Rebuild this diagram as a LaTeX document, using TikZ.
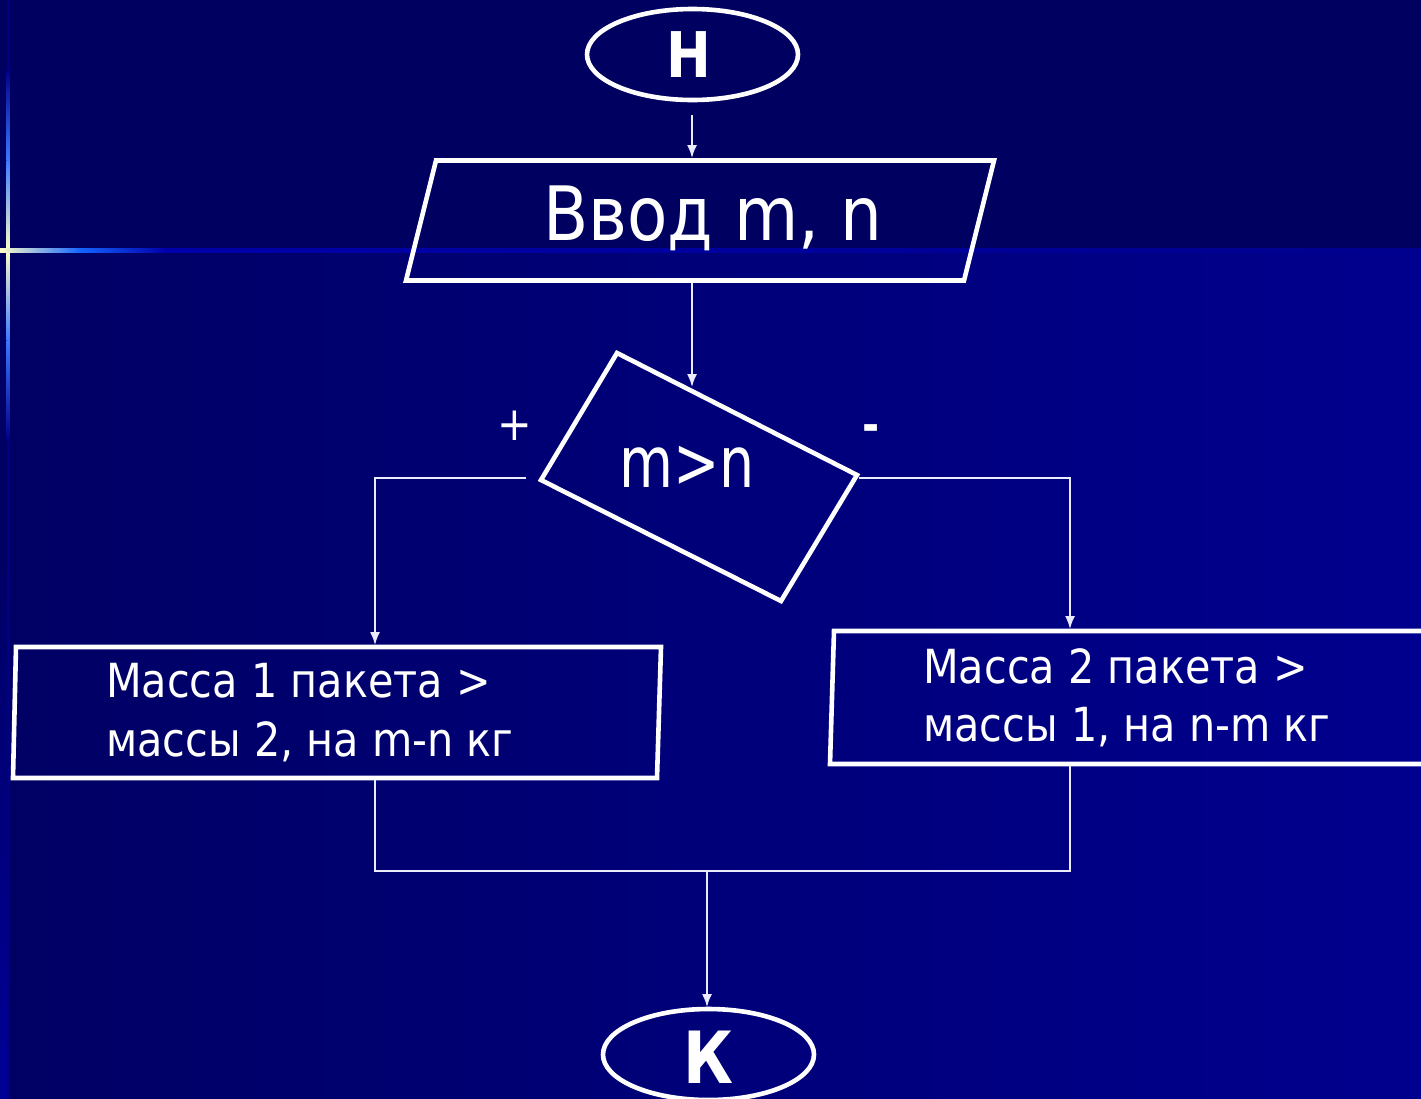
\documentclass[tikz,border=0pt]{standalone}
\usepackage{fontspec}
\setmainfont{DejaVu Sans}[FakeStretch=0.88]
\newfontfamily\condfont{DejaVu Sans}[FakeStretch=0.78]
\newfontfamily\termfont{DejaVu Sans}[FakeStretch=0.85]
\usetikzlibrary{arrows.meta,shapes.geometric,calc}
\definecolor{bgtop}{RGB}{0,0,96}
\definecolor{bgleft}{RGB}{0,0,100}
\definecolor{bgright}{RGB}{0,0,142}
\definecolor{stripblue}{RGB}{0,0,150}
\definecolor{glowdark}{RGB}{0,0,135}
\definecolor{glowmid}{RGB}{60,120,255}
\definecolor{glowlight}{RGB}{255,255,200}
\definecolor{glowblue}{RGB}{20,100,255}
\definecolor{linedark}{RGB}{0,0,170}
\begin{document}
\begin{tikzpicture}[x=1pt,y=-1pt,
  shp/.style={draw=white,line width=4.6pt,line join=miter},
  conn/.style={draw=white!92!blue,line width=1.7pt},
  arr/.style={conn,-{Latex[length=13pt,width=10pt]}},
  term/.style={ellipse,draw=white,line width=4.6pt,minimum width=211pt,minimum height=91pt,inner sep=0pt},
  termtxt/.style={text=white,inner sep=0pt,font=\termfont\bfseries\fontsize{63pt}{63pt}\selectfont},
  txt/.style={text=white,inner sep=0pt},
  boxtxt/.style={txt,anchor=base west,font=\fontsize{47pt}{59pt}\selectfont},
]
\useasboundingbox (0,0) rectangle (1421,1098);
% background
\fill[bgtop] (0,0) rectangle (1421,252);
\shade[left color=bgleft,right color=bgright] (0,251) rectangle (1421,1098);
\shade[top color=bgleft,bottom color=stripblue] (0,560) rectangle (7,1098);
% decorative glow lines
\fill[glowdark] (6.5,0) rectangle (9.5,1098);
\shade[top color=glowdark,bottom color=glowmid] (6.5,70) rectangle (9.5,160);
\shade[top color=glowmid,bottom color=glowlight] (6.5,160) rectangle (9.5,250);
\shade[top color=glowlight,bottom color=glowmid] (6.5,250) rectangle (9.5,340);
\shade[top color=glowmid,bottom color=glowdark] (6.5,340) rectangle (9.5,440);
\shade[left color=glowlight,right color=glowblue] (0,248.5) rectangle (80,252);
\shade[left color=glowblue,right color=linedark] (80,248.5) rectangle (165,252);
\shade[left color=linedark,right color=bgright] (165,248.5) rectangle (1421,252);

% terminals
\node[term] (start) at (692.5,54.5) {};
\node[termtxt] (startTxt) at (689,55) {Н};
\node[term] (end) at (708.5,1054.5) {};
\node[termtxt,font=\termfont\bfseries\fontsize{72pt}{72pt}\selectfont] (endTxt) at (709,1057) {К};

% input parallelogram
\coordinate (inTL) at (436,160.5);
\coordinate (inTR) at (994,160.5);
\coordinate (inBR) at (964,280.5);
\coordinate (inBL) at (406,280.5);
\draw[shp] (inTL) -- (inTR) -- (inBR) -- (inBL) -- cycle;
\node[txt,anchor=base,font=\fontsize{75pt}{75pt}\selectfont] (inp) at (713,240) {Ввод m, n};

% decision
\coordinate (dT) at (617,353);
\coordinate (dR) at (857,475);
\coordinate (dB) at (781,601);
\coordinate (dL) at (541,480);
\draw[shp] (dT) -- (dR) -- (dB) -- (dL) -- cycle;
\node[txt,anchor=base,font=\condfont\fontsize{71pt}{71pt}\selectfont] (cond) at (687,487) {m>n};
\node[txt,font=\fontsize{47pt}{47pt}\selectfont] (plus) at (515,425.5) {+};
\node[txt,font=\bfseries\fontsize{47pt}{47pt}\selectfont] (minus) at (871,433.5) {-};

% left box
\coordinate (lTL) at (16,647);
\coordinate (lTR) at (661,647);
\coordinate (lBR) at (657,778);
\coordinate (lBL) at (13,778);
\draw[shp] (lTL) -- (lTR) -- (lBR) -- (lBL) -- cycle;
\node[boxtxt] (l1) at (106,697) {Масса 1 пакета >};
\node[boxtxt] (l2) at (106,756) {массы 2, на m-n кг};

% right box
\coordinate (rTL) at (834,631);
\coordinate (rTR) at (1440,631);
\coordinate (rBR) at (1440,764);
\coordinate (rBL) at (830,764);
\draw[shp] (rTL) -- (rTR) -- (rBR) -- (rBL) -- cycle;
\node[boxtxt] (r1) at (923,683) {Масса 2 пакета >};
\node[boxtxt] (r2) at (923,741) {массы 1, на n-m кг};

% connector points
\coordinate (a0) at (692,115);
\coordinate (inIn) at (692,158);
\coordinate (inOut) at (692,283);
\coordinate (dIn) at (692,387);
\coordinate (yesOut) at (526,478);
\coordinate (noOut) at (859,478);
\coordinate (lIn) at (375,645);
\coordinate (rIn) at (1070,629);
\coordinate (lOut) at (375,780);
\coordinate (rOut) at (1070,766);
\coordinate (jR) at (1070,871);
\coordinate (jM) at (707,871);
\coordinate (endIn) at (707,1007);

\draw[arr] (a0) -- (inIn);
\draw[arr] (inOut) -- (dIn);
\draw[arr] (yesOut) -| (lIn);
\draw[arr] (noOut) -| (rIn);
\draw[conn] (lOut) |- (jR) -- (rOut);
\draw[arr] (jM) -- (endIn);
\end{tikzpicture}
\end{document}
